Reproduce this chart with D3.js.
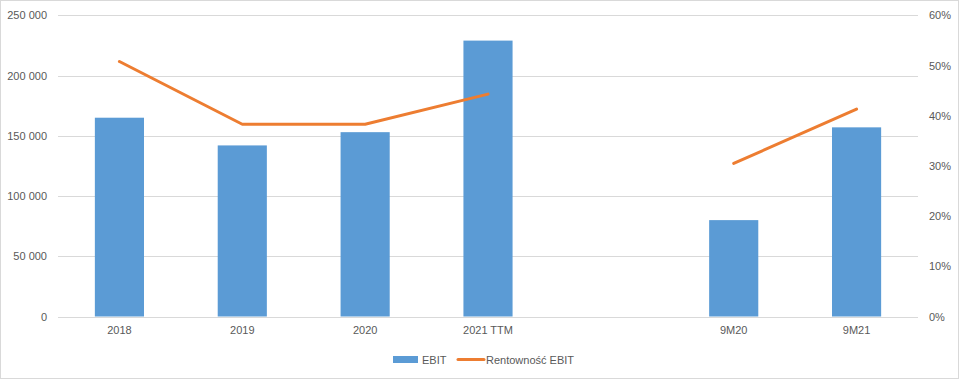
<!DOCTYPE html>
<html><head><meta charset="utf-8">
<script src="https://cdn.jsdelivr.net/npm/d3@7"></script>
<style>
html,body{margin:0;padding:0;background:#fff;}
text{font-family:"Liberation Sans","DejaVu Sans",sans-serif;font-size:11px;fill:#595959;}
</style></head>
<body><svg id="c" width="959" height="380"></svg>
<script>
const categories = ["2018", "2019", "2020", "2021 TTM", "", "9M20", "9M21"];
const ebit = [165000, 142000, 153000, 229000, null, 80000, 157000];
const margin = [0.508, 0.383, 0.383, 0.443, null, 0.305, 0.413];
const leftTicks = [0, 50000, 100000, 150000, 200000, 250000];
const rightTicks = [0, 0.1, 0.2, 0.3, 0.4, 0.5, 0.6];

const svg = d3.select("#c");
svg.append("rect").attr("x",0.5).attr("y",0.5).attr("width",958).attr("height",378)
  .attr("fill","#fff").attr("stroke","#d9d9d9");

const L = 58, R = 918, T = 15.3, B = 316.5;
const x = d3.scaleBand().domain(categories).range([L, R]).paddingInner(0.6).paddingOuter(0.3);
const yL = d3.scaleLinear().domain([0, 250000]).range([B, T]);
const yR = d3.scaleLinear().domain([0, 0.6]).range([B, T]);

// gridlines
svg.append("g").selectAll("line").data(leftTicks).join("line")
  .attr("x1", L).attr("x2", R)
  .attr("y1", d => Math.round(yL(d)) + 0.5).attr("y2", d => Math.round(yL(d)) + 0.5)
  .attr("stroke", "#d9d9d9").attr("stroke-width", 1);

// left axis
const fmt = d => d3.format(",")(d).replace(/,/g, " ");
const axL = svg.append("g").attr("transform", `translate(${L},0)`)
  .call(d3.axisLeft(yL).tickValues(leftTicks).tickFormat(fmt).tickSize(0).tickPadding(11));
axL.select(".domain").remove();
axL.selectAll("text").style("font-family", null).style("font-size", null).attr("fill", null);

// right axis
const axR = svg.append("g").attr("transform", `translate(${R},0)`)
  .call(d3.axisRight(yR).tickValues(rightTicks).tickFormat(d3.format(".0%")).tickSize(0).tickPadding(11));
axR.select(".domain").remove();
axR.selectAll("text").attr("font-family", null).attr("font-size", null).attr("fill", null);

// bottom axis
const axB = svg.append("g").attr("transform", `translate(0,${B})`)
  .call(d3.axisBottom(x).tickSize(0).tickPadding(10));
axB.select(".domain").remove();
axB.selectAll("text").attr("font-family", null).attr("font-size", null).attr("fill", null);

// bars
svg.append("g").selectAll("rect").data(categories.map((c, i) => ({c, v: ebit[i]})).filter(d => d.v != null))
  .join("rect")
  .attr("x", d => x(d.c)).attr("width", x.bandwidth())
  .attr("y", d => yL(d.v)).attr("height", d => yL(0) - yL(d.v))
  .attr("fill", "#5B9BD5");

// line
const line = d3.line().defined(d => d.v != null)
  .x(d => x(d.c) + x.bandwidth() / 2).y(d => yR(d.v));
svg.append("path").datum(categories.map((c, i) => ({c, v: margin[i]})))
  .attr("d", line).attr("fill", "none").attr("stroke", "#ED7D31")
  .attr("stroke-width", 3).attr("stroke-linecap", "round").attr("stroke-linejoin", "round");

// legend
const lg = svg.append("g");
lg.append("rect").attr("x", 393).attr("y", 356).attr("width", 25).attr("height", 7).attr("fill", "#5B9BD5");
lg.append("text").attr("x", 422).attr("y", 363.5).text("EBIT");
lg.append("line").attr("x1", 458).attr("x2", 484).attr("y1", 359.5).attr("y2", 359.5)
  .attr("stroke", "#ED7D31").attr("stroke-width", 3).attr("stroke-linecap", "round");
lg.append("text").attr("x", 486).attr("y", 363.5).text("Rentowność EBIT");
</script>
</body></html>
